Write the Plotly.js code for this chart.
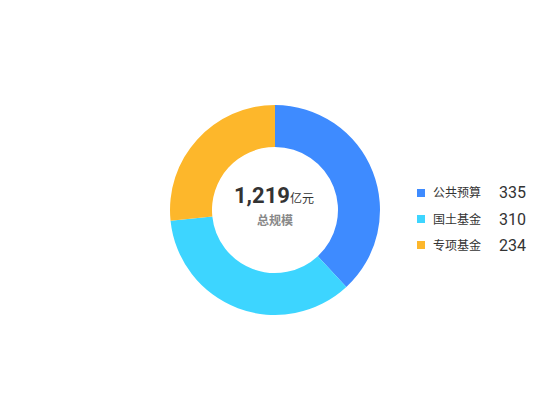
<!DOCTYPE html>
<html>
<head>
<meta charset="utf-8">
<script src="https://cdn.plot.ly/plotly-3.0.1.min.js"></script>
<style>
  html, body { margin: 0; padding: 0; background: #fff; }
  #chart { width: 550px; height: 420px; }
</style>
</head>
<body>
<div id="chart"></div>
<script>
// fund categories and their sizes (亿元)
const categories = ["公共预算", "国土基金", "专项基金"];
const values = [335, 310, 234];
const colors = ["#3e8bff", "#3dd5ff", "#fdb72b"];
const totalLabel = "1,219";
const totalUnit = "亿元";
const totalCaption = "总规模";

const W = 550, H = 420;
const FONT = "Roboto, 'Noto Sans CJK SC', sans-serif";

const pie = {
  type: "pie",
  labels: categories,
  values: values,
  hole: 0.6,
  sort: false,
  direction: "clockwise",
  rotation: 0,
  marker: { colors: colors, line: { width: 0 } },
  textinfo: "none",
  hoverinfo: "label+value",
  domain: { x: [170 / W, 380 / W], y: [1 - 315 / H, 1 - 105 / H] },
  showlegend: false
};

// hand-made legend: swatch, name, value
const shapes = [];
const annotations = [];
const legendTop = 193, legendStep = 26;
categories.forEach((name, i) => {
  const y = legendTop + i * legendStep;
  shapes.push({
    type: "rect", xref: "paper", yref: "paper",
    x0: 417 / W, x1: 425 / W, y0: 1 - (y + 4) / H, y1: 1 - (y - 4) / H,
    fillcolor: colors[i], line: { width: 0 }
  });
  annotations.push({
    xref: "paper", yref: "paper", x: 431 / W, y: 1 - y / H,
    xanchor: "left", yanchor: "middle", showarrow: false,
    text: name, font: { family: FONT, size: 12, color: "#333" }
  });
  annotations.push({
    xref: "paper", yref: "paper", x: 497 / W, y: 1 - y / H,
    xanchor: "left", yanchor: "middle", showarrow: false,
    text: String(values[i]), font: { family: FONT, size: 16, color: "#333" }
  });
});

annotations.push({
  xref: "paper", yref: "paper", x: 274 / W, y: 1 - 195 / H,
  xanchor: "center", yanchor: "middle", showarrow: false,
  text: "<b>" + totalLabel + "</b><span style='font-size:12px'>" + totalUnit + "</span>",
  font: { family: FONT, size: 22, color: "#333" }
});
annotations.push({
  xref: "paper", yref: "paper", x: 275 / W, y: 1 - 220 / H,
  xanchor: "center", yanchor: "middle", showarrow: false,
  text: "<b>" + totalCaption + "</b>",
  font: { family: FONT, size: 12, color: "#888" }
});

const layout = {
  width: W, height: H,
  margin: { l: 0, r: 0, t: 0, b: 0 },
  paper_bgcolor: "#fff",
  showlegend: false,
  shapes: shapes,
  annotations: annotations
};

Plotly.newPlot("chart", [pie], layout, { displayModeBar: false, staticPlot: true });
</script>
</body>
</html>
